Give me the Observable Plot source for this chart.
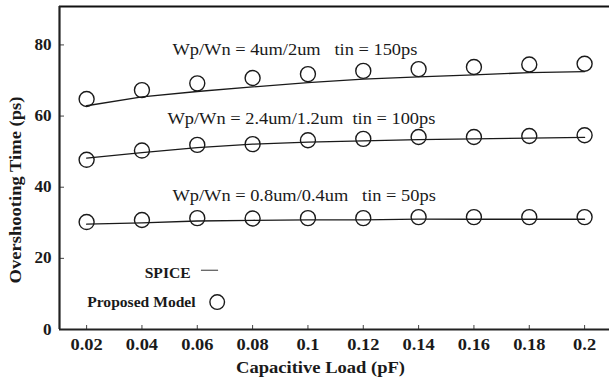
<!DOCTYPE html>
<html>
<head>
<meta charset="utf-8">
<script src="https://cdn.jsdelivr.net/npm/d3@7"></script>
<script src="https://cdn.jsdelivr.net/npm/@observablehq/plot@0.6"></script>
<style>
  html, body { margin: 0; padding: 0; background: #fff; }
  svg text { white-space: pre; }
</style>
</head>
<body>
<div id="chart"></div>
<script>
// ---- data ----
const capLoad = [0.02, 0.04, 0.06, 0.08, 0.1, 0.12, 0.14, 0.16, 0.18, 0.2];
const xTickLabels = ["0.02", "0.04", "0.06", "0.08", "0.1", "0.12", "0.14", "0.16", "0.18", "0.2"];
const yTicks = [0, 20, 40, 60, 80];

const spice4um   = [62.9, 65.4, 66.9, 68.2, 69.4, 70.4, 71.0, 71.6, 72.2, 72.5];
const model4um   = [64.8, 67.3, 69.2, 70.7, 71.8, 72.7, 73.2, 73.8, 74.5, 74.7];
const spice2_4um = [48.2, 49.7, 51.1, 52.1, 52.7, 53.0, 53.4, 53.6, 53.8, 54.0];
const model2_4um = [47.7, 50.3, 51.9, 52.1, 53.2, 53.6, 54.1, 54.1, 54.4, 54.6];
const spice0_8um = [29.6, 30.0, 30.5, 30.7, 30.8, 30.8, 31.0, 31.0, 31.0, 31.0];
const model0_8um = [30.2, 30.8, 31.3, 31.2, 31.3, 31.3, 31.6, 31.6, 31.6, 31.6];

const seriesLabels = [
  "Wp/Wn = 4um/2um   tin = 150ps",
  "Wp/Wn = 2.4um/1.2um  tin = 100ps",
  "Wp/Wn = 0.8um/0.4um   tin = 50ps"
];
const legendLabels = ["SPICE", "Proposed Model"];
const xTitle = "Capacitive Load (pF)";
const yTitle = "Overshooting Time (ps)";

// ---- build table ----
const spiceSeries = [spice4um, spice2_4um, spice0_8um];
const modelSeries = [model4um, model2_4um, model0_8um];
const rows = [];
spiceSeries.forEach((s, i) => capLoad.forEach((c, j) => rows.push({series: i, x: c, spice: s[j], model: modelSeries[i][j]})));

const labelRows = [
  {text: seriesLabels[0], x: 0.0510, y: 78.6},
  {text: seriesLabels[1], x: 0.0492, y: 59.1},
  {text: seriesLabels[2], x: 0.0510, y: 37.5}
];

const xDomain = [0.0102, 0.2090];
const yDomain = [0, 90.8];
const ink = "#1a1a1a";
const font = "'Liberation Serif', 'Times New Roman', serif";

const plot = Plot.plot({
  width: 609,
  height: 383,
  marginLeft: 59,
  marginRight: 0,
  marginTop: 6,
  marginBottom: 54,
  style: {fontFamily: font, color: ink, background: "#fff", overflow: "visible"},
  x: {domain: xDomain, label: null},
  y: {domain: yDomain, label: null},
  marks: [
    Plot.axisX({ticks: capLoad, tickFormat: d => xTickLabels[capLoad.indexOf(d)], tickSize: -4, tickPadding: 13,
      fontSize: 16, fontWeight: "bold", label: null, stroke: "#444"}),
    Plot.axisY({ticks: yTicks, tickSize: -5, tickPadding: 13, fontSize: 16, fontWeight: "bold",
      label: null, stroke: "#444"}),
    Plot.ruleY([yDomain[0]], {stroke: "#222", strokeWidth: 2.2}),
    Plot.ruleY([yDomain[1]], {stroke: "#111", strokeWidth: 2.2}),
    Plot.ruleX([xDomain[0]], {stroke: "#222", strokeWidth: 2.2}),
    Plot.line(rows, {x: "x", y: "spice", z: "series", stroke: ink, strokeWidth: 1.3}),
    Plot.dot(rows, {x: "x", y: "model", r: 7.5, stroke: ink, strokeWidth: 1.4, fill: "none"}),
    Plot.text(labelRows, {x: "x", y: "y", text: "text", textAnchor: "start", fontSize: 16, fill: ink}),
    // legend
    Plot.text([legendLabels[0]], {x: () => 0.0576, y: () => 15.7, textAnchor: "end", fontSize: 15, fontWeight: "bold", fill: ink}),
    Plot.ruleY([16.65], {x1: 0.0615, x2: 0.0677, stroke: "#555", strokeWidth: 1.2}),
    Plot.text([legendLabels[1]], {x: () => 0.0594, y: () => 7.7, textAnchor: "end", fontSize: 15, fontWeight: "bold", fill: ink}),
    Plot.dot([0], {x: () => 0.0672, y: () => 7.7, r: 7.3, stroke: ink, strokeWidth: 1.4, fill: "none"}),
    // axis titles
    Plot.text([xTitle], {frameAnchor: "bottom", textAnchor: "middle", lineAnchor: "middle", dx: -14, dy: 38.5,
      fontSize: 16, fontWeight: "bold", fill: ink}),
    Plot.text([yTitle], {frameAnchor: "left", textAnchor: "middle", lineAnchor: "middle", rotate: -90, dx: -44, dy: 22,
      fontSize: 16, fontWeight: "bold", fill: ink})
  ]
});

document.getElementById("chart").appendChild(plot);
// the scanned figure's lettering is wider than Liberation Serif: stretch each text horizontally about its anchor
function stretch(list, s) {
  d3.select(plot).selectAll("text")
    .filter(function() { return list.includes(this.textContent); })
    .each(function() {
      const t = this.getAttribute("transform") || "";
      this.setAttribute("transform", `${t} scale(${s},1)`.trim());
    });
}
stretch(xTickLabels, 1.15);
stretch(yTicks.map(String), 1.07);
stretch([xTitle, yTitle], 1.16);
stretch(seriesLabels, 1.15);
stretch(legendLabels, 1.04);
</script>
</body>
</html>
